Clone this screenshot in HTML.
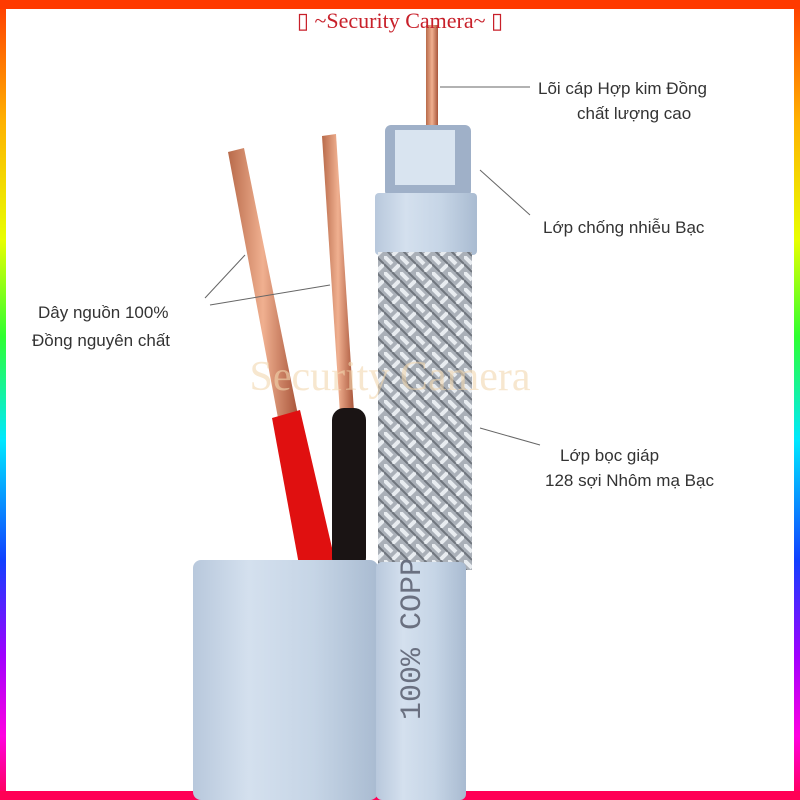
<!DOCTYPE html>
<html><head><meta charset="utf-8"><style>
html,body{margin:0;padding:0;width:800px;height:800px;overflow:hidden;background:#fff}
svg{display:block}
text{font-family:"Liberation Sans",sans-serif;fill:#333;font-size:17px}
</style></head><body>
<svg width="800" height="800" viewBox="0 0 800 800">
<defs>
<linearGradient id="side" x1="0" y1="0" x2="0" y2="1">
<stop offset="0" stop-color="#ff3a00"/><stop offset="0.15" stop-color="#ffb000"/><stop offset="0.3" stop-color="#e8ff00"/><stop offset="0.42" stop-color="#2fff30"/><stop offset="0.55" stop-color="#00e8ff"/><stop offset="0.7" stop-color="#1040ff"/><stop offset="0.82" stop-color="#a000ff"/><stop offset="0.92" stop-color="#ff00e0"/><stop offset="1" stop-color="#ff0050"/>
</linearGradient>
<linearGradient id="jk" x1="0" y1="0" x2="1" y2="0">
<stop offset="0" stop-color="#b8c8dc"/><stop offset="0.3" stop-color="#d4e0ee"/><stop offset="0.65" stop-color="#c6d5e6"/><stop offset="1" stop-color="#a9bbd1"/>
</linearGradient>
<linearGradient id="cu" x1="0" y1="0" x2="1" y2="0">
<stop offset="0" stop-color="#b86a4a"/><stop offset="0.5" stop-color="#f0b090"/><stop offset="1" stop-color="#a8553a"/>
</linearGradient>
<pattern id="braid" width="16" height="16" patternUnits="userSpaceOnUse">
<rect width="16" height="16" fill="#aab0b8"/>
<path d="M0 0 L8 8 M8 16 L16 8" stroke="#e8ecf0" stroke-width="4"/>
<path d="M8 0 L16 8 M0 8 L8 16" stroke="#70767e" stroke-width="2"/>
</pattern>
</defs>
<rect x="0" y="0" width="800" height="800" fill="url(#side)"/>
<rect x="0" y="0" width="800" height="9" fill="#ff3a00"/>
<rect x="0" y="791" width="800" height="9" fill="#ff0055"/>
<rect x="6" y="9" width="788" height="782" fill="#fff"/>
<!-- copper strands -->
<polygon points="228,152 244,148 298,415 278,418" fill="url(#cu)"/>
<polygon points="322,136 336,134 354,412 340,414" fill="url(#cu)"/>
<!-- red wire -->
<polygon points="272,418 300,410 336,565 300,570" fill="#e01010"/>
<!-- black wire -->
<rect x="332" y="408" width="34" height="162" rx="12" fill="#1a1414"/>
<!-- core -->
<rect x="426" y="25" width="12" height="115" fill="url(#cu)"/>
<!-- foil -->
<rect x="385" y="125" width="86" height="72" rx="6" fill="#9fb0c8"/>
<rect x="395" y="130" width="60" height="55" fill="#d9e4f0"/>
<!-- insulator ring -->
<rect x="375" y="193" width="102" height="62" rx="4" fill="url(#jk)"/>
<!-- braid -->
<rect x="378" y="252" width="94" height="318" fill="url(#braid)"/>
<!-- jacket -->
<rect x="193" y="560" width="185" height="240" rx="8" fill="url(#jk)"/>
<rect x="376" y="562" width="90" height="238" rx="6" fill="url(#jk)"/>
<text x="420" y="720" transform="rotate(-90 420 720)" style="font-size:30px;fill:#6a7080;font-family:'Liberation Mono',monospace">100% COPP</text>
<text x="390" y="390" style="font-family:'Liberation Serif',serif;font-size:42px;fill:#f3d8b0;opacity:0.6" text-anchor="middle">Security Camera</text>
<text x="400" y="28" text-anchor="middle" style="font-family:'Liberation Serif',serif;font-size:22px;fill:#c8202a">▯ ~Security Camera~ ▯</text>
<!-- leader lines -->
<g stroke="#666" stroke-width="1" fill="none">
<line x1="440" y1="87" x2="530" y2="87"/>
<line x1="480" y1="170" x2="530" y2="215"/>
<line x1="480" y1="428" x2="540" y2="445"/>
<line x1="205" y1="298" x2="245" y2="255"/>
<line x1="210" y1="305" x2="330" y2="285"/>
</g>
<text x="538" y="94">Lõi cáp Hợp kim Đồng</text>
<text x="577" y="119">chất lượng cao</text>
<text x="543" y="233">Lớp chống nhiễu Bạc</text>
<text x="560" y="461">Lớp bọc giáp</text>
<text x="545" y="486">128 sợi Nhôm mạ Bạc</text>
<text x="38" y="318">Dây nguồn 100%</text>
<text x="32" y="346">Đồng nguyên chất</text>
</svg>
</body></html>
